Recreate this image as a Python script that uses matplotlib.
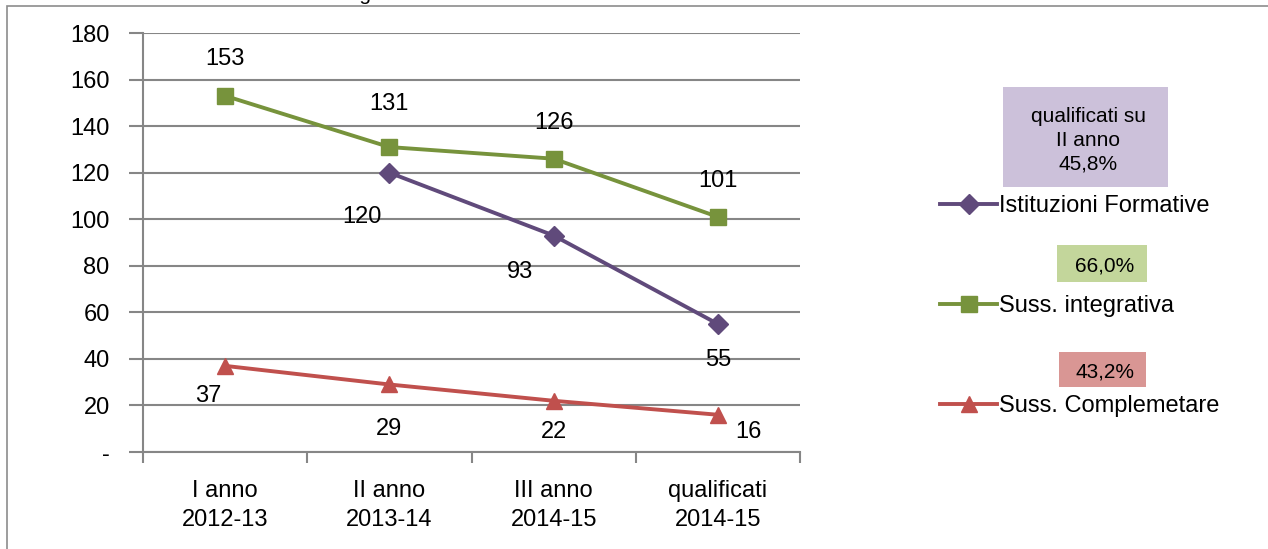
import numpy as np
import matplotlib
matplotlib.use('Agg')
import matplotlib.pyplot as plt
from matplotlib.patches import Rectangle

plt.rcParams['font.family'] = ['Liberation Sans', 'DejaVu Sans']

categories = ['I anno\n2012-13', 'II anno\n2013-14', 'III anno\n2014-15', 'qualificati\n2014-15']
istituzioni = [np.nan, 120, 93, 55]
integrativa = [153, 131, 126, 101]
complementare = [37, 29, 22, 16]
series_names = ['Istituzioni Formative', 'Suss. integrativa', 'Suss. Complemetare']
ratio_texts = ['qualificati su\nII anno\n45,8%', '66,0%', '43,2%']
yticks = [0, 20, 40, 60, 80, 100, 120, 140, 160, 180]
ytick_labels = ['-'] + [str(v) for v in yticks[1:]]

# label offsets (pixels) for each point
off_if = [None, (-27, -44), (-34, -36), (0, -36)]
off_int = [(0, 37), (0, 43), (0, 36), (0, 36)]
off_comp = [(-17, -30), (0, -45), (0, -31), (31, -17)]

W, H = 1268, 549
fig = plt.figure(figsize=(W / 100, H / 100), dpi=100)
fig.patch.set_facecolor('white')

# outer frame
fig.patches.append(Rectangle((7 / W, -0.05), 1.2, 1 - 6 / H + 0.05, transform=fig.transFigure,
                             fill=False, edgecolor='#8c8c8c', lw=1.2))

ax = fig.add_axes([143 / W, 1 - 452 / H, (800 - 143) / W, (452 - 33) / H])
x = np.arange(len(categories))

c_if, c_int, c_comp = '#604a7b', '#77933c', '#c0504d'
l1, = ax.plot(x, istituzioni, color=c_if, lw=2.8, marker='D', ms=10, zorder=3)
l2, = ax.plot(x, integrativa, color=c_int, lw=2.8, marker='s', ms=12, zorder=3)
l3, = ax.plot(x, complementare, color=c_comp, lw=2.8, marker='^', ms=12, zorder=3)

fs = 17
for vals, offs in [(istituzioni, off_if), (integrativa, off_int), (complementare, off_comp)]:
    for xi, v, o in zip(x, vals, offs):
        if o is None or np.isnan(v):
            continue
        ax.annotate(f'{v:.0f}', (xi, v), xytext=o, textcoords='offset pixels',
                    ha='center', va='center', fontsize=fs, color='black')

ax.set_xlim(-0.5, len(categories) - 0.5)
ax.set_ylim(0, 180)
ax.set_yticks(yticks)
ax.set_yticklabels(ytick_labels, fontsize=fs)
ax.set_xticks(x)
ax.set_xticklabels(categories, fontsize=fs, linespacing=1.45)
ax.set_xticks(np.arange(-0.5, len(categories)), minor=True)
ax.tick_params(axis='x', which='major', length=0, pad=20)
ax.tick_params(axis='x', which='minor', length=8, color='#868686', width=1.5)
ax.tick_params(axis='y', length=10, color='#868686', width=1.5, pad=14)
ax.yaxis.grid(True, color='#868686', lw=1.5)
ax.set_axisbelow(True)
for s in ['top', 'right']:
    ax.spines[s].set_visible(False)
for s in ['left', 'bottom']:
    ax.spines[s].set_color('#868686')
    ax.spines[s].set_linewidth(1.5)

leg = fig.legend([l1, l2, l3], series_names, loc='upper left',
                 bbox_to_anchor=(931 / W, 1 - 186 / H), frameon=False, fontsize=fs,
                 handlelength=2.4, handletextpad=0.1, labelspacing=3.3, borderaxespad=0)

# ratio boxes: (left, top, right, bottom) in pixels
box_colors = ['#ccc1da', '#c3d69b', '#d99694']
box_rect = [(1003, 87, 1168, 187), (1057, 245, 1147, 282), (1059, 352, 1146, 387)]
for t, c, (bl, bt, br, bb) in zip(ratio_texts, box_colors, box_rect):
    fig.patches.append(Rectangle((bl / W, 1 - bb / H), (br - bl) / W, (bb - bt) / H,
                                 transform=fig.transFigure, fc=c, ec='none'))
    fig.text((bl + br) / 2 / W + 3 / W, 1 - ((bt + bb) / 2 + 3) / H, t, ha='center', va='center',
             fontsize=15, linespacing=1.3)

# clipped title at the top
fig.text(633 / W, 1 - 4 / H, "Fig. 3.13 – Valle d'Aosta: successo formativo del triennio 12-15",
         ha='center', va='bottom', fontsize=15)

fig.savefig('out.png', dpi=100)
